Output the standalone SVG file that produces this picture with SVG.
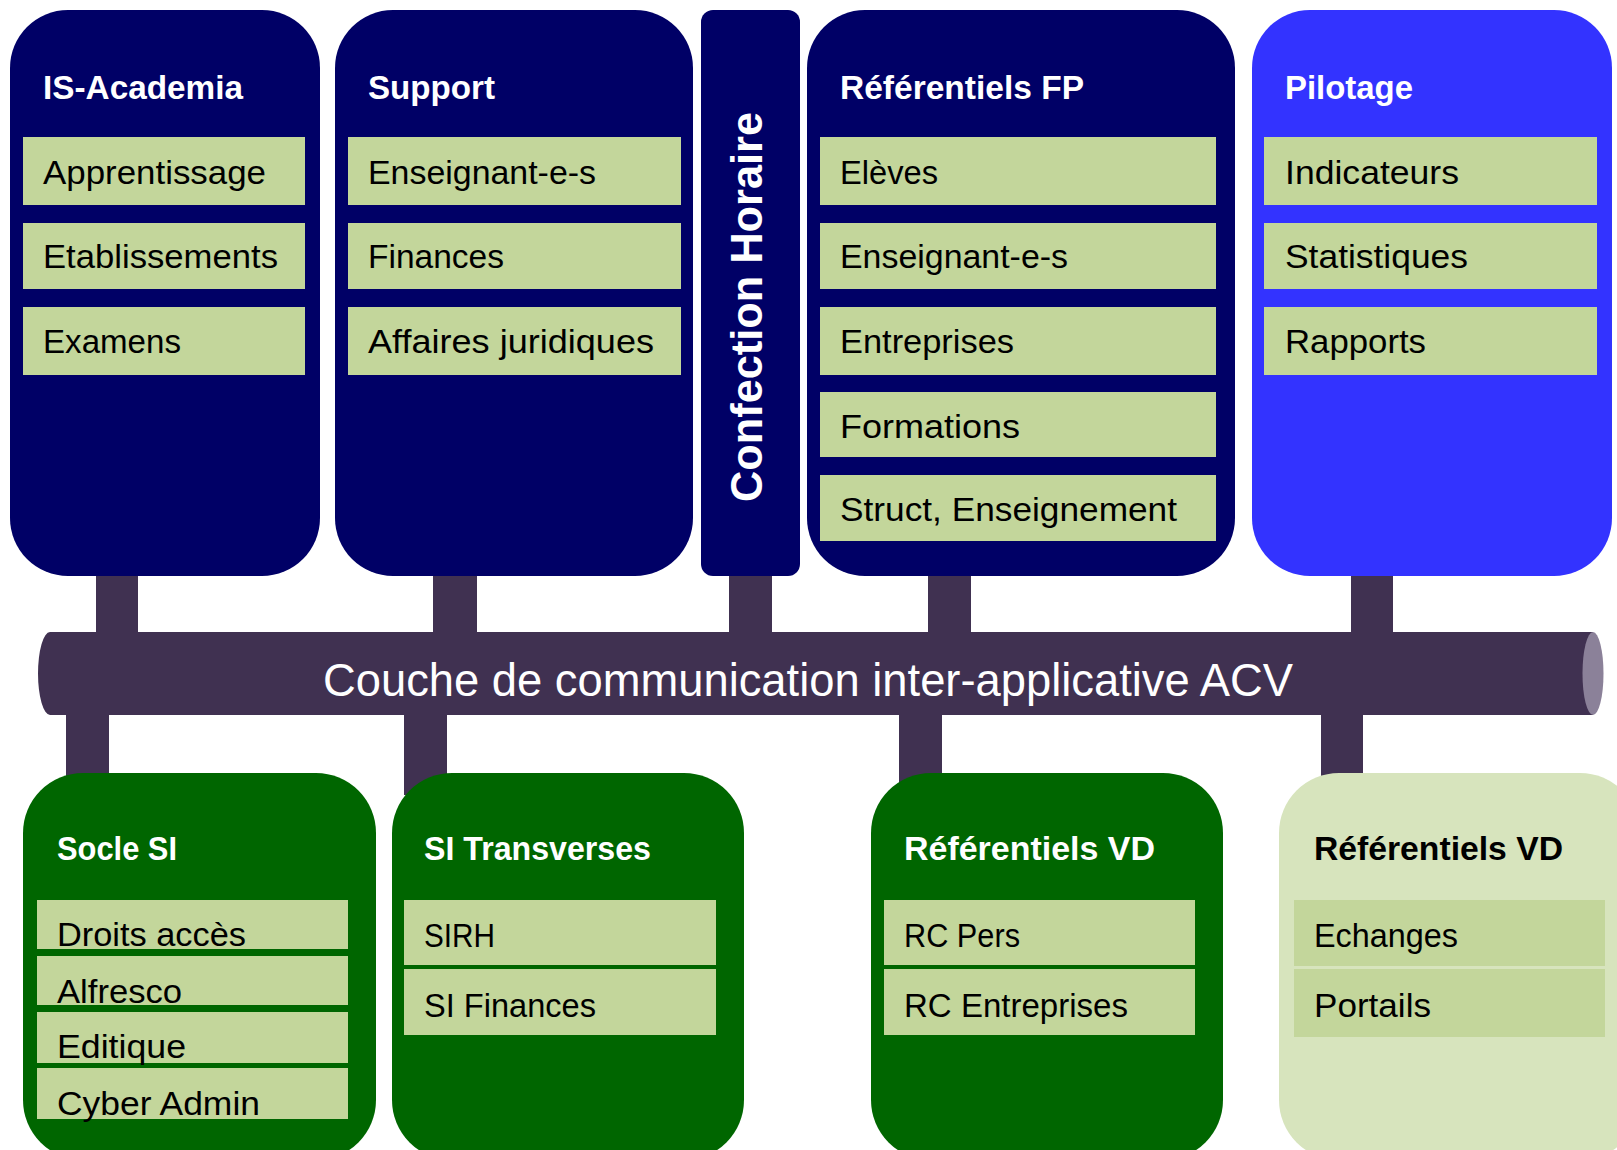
<svg xmlns="http://www.w3.org/2000/svg" width="1617" height="1150" viewBox="0 0 1617 1150">
<style>
.navy{fill:#000066}
.blue{fill:#3333FF}
.dgreen{fill:#006600}
.lgreen{fill:#D7E4BD}
.item{fill:#C3D69B}
.stub{fill:#403151}
.t{font-family:"Liberation Sans",Arial,sans-serif;}
.title{font-size:34px;font-weight:bold;fill:#FFFFFF}
.titleb{font-size:34px;font-weight:bold;fill:#000000}
.it{font-size:33px;fill:#000000}
</style>
<rect width="1617" height="1150" fill="#FFFFFF"/>
<g id="connectors">
  <rect class="stub" x="96" y="560" width="42" height="80"/>
  <rect class="stub" x="433" y="560" width="44" height="80"/>
  <rect class="stub" x="729" y="560" width="43" height="80"/>
  <rect class="stub" x="928" y="560" width="43" height="80"/>
  <rect class="stub" x="1351" y="560" width="42" height="80"/>
  <rect class="stub" x="66" y="705" width="43" height="90"/>
  <rect class="stub" x="404" y="705" width="43" height="90"/>
  <rect class="stub" x="899" y="705" width="43" height="90"/>
  <rect class="stub" x="1321" y="705" width="42" height="90"/>
</g>
<g id="bus">
  <path class="stub" d="M50 632 H1593 V715 H50 A12 41.5 0 0 1 50 632 Z"/>
  <ellipse cx="1593" cy="673.5" rx="10.5" ry="41.5" fill="#8B8199"/>
  <text class="t" x="323" y="696" font-size="46" fill="#FFFFFF" textLength="970" lengthAdjust="spacingAndGlyphs">Couche de communication inter-applicative ACV</text>
</g>
<g id="is-academia">
  <rect class="navy" x="10" y="10" width="310" height="566" rx="58" ry="58"/>
  <text class="t title" x="43" y="99" textLength="200" lengthAdjust="spacingAndGlyphs">IS-Academia</text>
  <rect class="item" x="23" y="137" width="282" height="68"/>
  <rect class="item" x="23" y="223" width="282" height="66"/>
  <rect class="item" x="23" y="307" width="282" height="68"/>
  <text class="t it" x="43" y="184" textLength="223" lengthAdjust="spacingAndGlyphs">Apprentissage</text>
  <text class="t it" x="43" y="268" textLength="235" lengthAdjust="spacingAndGlyphs">Etablissements</text>
  <text class="t it" x="43" y="353" textLength="138" lengthAdjust="spacingAndGlyphs">Examens</text>
</g>
<g id="support">
  <rect class="navy" x="335" y="10" width="358" height="566" rx="58" ry="58"/>
  <text class="t title" x="368" y="99" textLength="127" lengthAdjust="spacingAndGlyphs">Support</text>
  <rect class="item" x="348" y="137" width="333" height="68"/>
  <rect class="item" x="348" y="223" width="333" height="66"/>
  <rect class="item" x="348" y="307" width="333" height="68"/>
  <text class="t it" x="368" y="184" textLength="228" lengthAdjust="spacingAndGlyphs">Enseignant-e-s</text>
  <text class="t it" x="368" y="268" textLength="136" lengthAdjust="spacingAndGlyphs">Finances</text>
  <text class="t it" x="368" y="353" textLength="286" lengthAdjust="spacingAndGlyphs">Affaires juridiques</text>
</g>
<g id="confection-horaire">
  <rect class="navy" x="701" y="10" width="99" height="566" rx="12" ry="12"/>
  <text class="t title" transform="translate(762,307) rotate(-90)" x="0" y="0" text-anchor="middle" font-size="45" textLength="390" lengthAdjust="spacingAndGlyphs" style="font-size:45px">Confection Horaire</text>
</g>
<g id="referentiels-fp">
  <rect class="navy" x="807" y="10" width="428" height="566" rx="58" ry="58"/>
  <text class="t title" x="840" y="99" textLength="244" lengthAdjust="spacingAndGlyphs">Référentiels FP</text>
  <rect class="item" x="820" y="137" width="396" height="68"/>
  <rect class="item" x="820" y="223" width="396" height="66"/>
  <rect class="item" x="820" y="307" width="396" height="68"/>
  <rect class="item" x="820" y="392" width="396" height="65"/>
  <rect class="item" x="820" y="475" width="396" height="66"/>
  <text class="t it" x="840" y="184" textLength="98" lengthAdjust="spacingAndGlyphs">Elèves</text>
  <text class="t it" x="840" y="268" textLength="228" lengthAdjust="spacingAndGlyphs">Enseignant-e-s</text>
  <text class="t it" x="840" y="353" textLength="174" lengthAdjust="spacingAndGlyphs">Entreprises</text>
  <text class="t it" x="840" y="438" textLength="180" lengthAdjust="spacingAndGlyphs">Formations</text>
  <text class="t it" x="840" y="521" textLength="337" lengthAdjust="spacingAndGlyphs">Struct, Enseignement</text>
</g>
<g id="pilotage">
  <rect class="blue" x="1252" y="10" width="360" height="566" rx="58" ry="58"/>
  <text class="t title" x="1285" y="99" textLength="128" lengthAdjust="spacingAndGlyphs">Pilotage</text>
  <rect class="item" x="1264" y="137" width="333" height="68"/>
  <rect class="item" x="1264" y="223" width="333" height="66"/>
  <rect class="item" x="1264" y="307" width="333" height="68"/>
  <text class="t it" x="1285" y="184" textLength="174" lengthAdjust="spacingAndGlyphs">Indicateurs</text>
  <text class="t it" x="1285" y="268" textLength="183" lengthAdjust="spacingAndGlyphs">Statistiques</text>
  <text class="t it" x="1285" y="353" textLength="141" lengthAdjust="spacingAndGlyphs">Rapports</text>
</g>
<g id="socle-si">
  <rect class="dgreen" x="23" y="773" width="353" height="387" rx="60" ry="60"/>
  <text class="t title" x="57" y="860" textLength="120" lengthAdjust="spacingAndGlyphs">Socle SI</text>
  <rect class="item" x="37" y="900" width="311" height="49"/>
  <rect class="item" x="37" y="956" width="311" height="49"/>
  <rect class="item" x="37" y="1012" width="311" height="51"/>
  <rect class="item" x="37" y="1068" width="311" height="51"/>
  <text class="t it" x="57" y="946" textLength="189" lengthAdjust="spacingAndGlyphs">Droits accès</text>
  <text class="t it" x="57" y="1003" textLength="125" lengthAdjust="spacingAndGlyphs">Alfresco</text>
  <text class="t it" x="57" y="1058" textLength="129" lengthAdjust="spacingAndGlyphs">Editique</text>
  <text class="t it" x="57" y="1115" textLength="203" lengthAdjust="spacingAndGlyphs">Cyber Admin</text>
</g>
<g id="si-transverses">
  <rect class="dgreen" x="392" y="773" width="352" height="387" rx="60" ry="60"/>
  <text class="t title" x="424" y="860" textLength="227" lengthAdjust="spacingAndGlyphs">SI Transverses</text>
  <rect class="item" x="404" y="900" width="312" height="65"/>
  <rect class="item" x="404" y="969" width="312" height="66"/>
  <text class="t it" x="424" y="947" textLength="71" lengthAdjust="spacingAndGlyphs">SIRH</text>
  <text class="t it" x="424" y="1017" textLength="172" lengthAdjust="spacingAndGlyphs">SI Finances</text>
</g>
<g id="referentiels-vd-1">
  <rect class="dgreen" x="871" y="773" width="352" height="387" rx="60" ry="60"/>
  <text class="t title" x="904" y="860" textLength="251" lengthAdjust="spacingAndGlyphs">Référentiels VD</text>
  <rect class="item" x="884" y="900" width="311" height="65"/>
  <rect class="item" x="884" y="969" width="311" height="66"/>
  <text class="t it" x="904" y="947" textLength="116" lengthAdjust="spacingAndGlyphs">RC Pers</text>
  <text class="t it" x="904" y="1017" textLength="224" lengthAdjust="spacingAndGlyphs">RC Entreprises</text>
</g>
<g id="referentiels-vd-2">
  <rect class="lgreen" x="1279" y="773" width="361" height="387" rx="60" ry="60"/>
  <text class="t titleb" x="1314" y="860" textLength="249" lengthAdjust="spacingAndGlyphs">Référentiels VD</text>
  <rect class="item" x="1294" y="900" width="311" height="66"/>
  <rect class="item" x="1294" y="969" width="311" height="68"/>
  <text class="t it" x="1314" y="947" textLength="144" lengthAdjust="spacingAndGlyphs">Echanges</text>
  <text class="t it" x="1314" y="1017" textLength="117" lengthAdjust="spacingAndGlyphs">Portails</text>
</g>
</svg>
